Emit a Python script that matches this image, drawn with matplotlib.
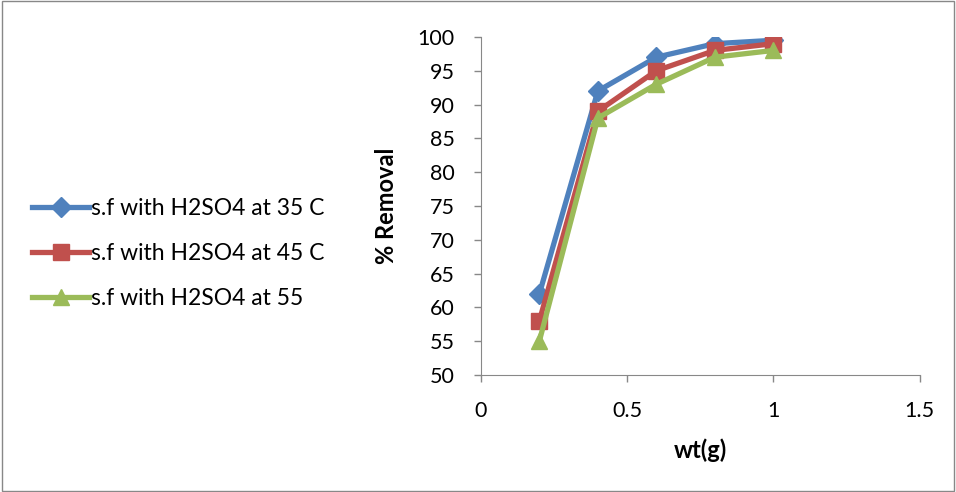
import matplotlib.pyplot as plt
from matplotlib.patches import Rectangle

plt.rcParams['font.family'] = ['Lato', 'DejaVu Sans']

wt = [0.2, 0.4, 0.6, 0.8, 1.0]
removal_35 = [62, 92, 97, 99, 99.5]
removal_45 = [58, 89, 95, 98, 99]
removal_55 = [55, 88, 93, 97, 98]
labels = ['s.f with H2SO4 at 35 C', 's.f with H2SO4 at 45 C', 's.f with H2SO4 at 55']

fig = plt.figure(figsize=(9.56, 4.92), dpi=100)
ax = fig.add_axes([0.503, 0.238, 0.459, 0.687])

ax.plot(wt, removal_35, color='#4F81BD', lw=3.8, marker='D', ms=10, label=labels[0])
ax.plot(wt, removal_45, color='#C0504D', lw=3.8, marker='s', ms=11, label=labels[1])
ax.plot(wt, removal_55, color='#9BBB59', lw=3.8, marker='^', ms=12, label=labels[2])

ax.set_xlim(0, 1.5)
ax.set_ylim(50, 100)
ax.set_xticks([0, 0.5, 1, 1.5])
ax.set_xticklabels(['0', '0.5', '1', '1.5'])
ax.set_yticks(range(50, 101, 5))
ax.tick_params(labelsize=15.5, colors='#888888', labelcolor='black', length=5, width=1)
ax.tick_params(axis='x', pad=14)
ax.tick_params(axis='y', pad=14)
for s in ['top', 'right']:
    ax.spines[s].set_visible(False)
for s in ['left', 'bottom']:
    ax.spines[s].set_color('#888888')
ax.set_xlabel('wt(g)', fontsize=17, fontweight='bold', labelpad=12)
ax.set_ylabel('% Removal', fontsize=17, fontweight='bold', labelpad=14)

handles, labs = ax.get_legend_handles_labels()
fig.legend(handles, labs, loc='center left', bbox_to_anchor=(0.012, 0.485),
           frameon=False, fontsize=16.5, handlelength=2.5, labelspacing=1.05,
           handletextpad=0.05)

# outer chart border
fig.add_artist(Rectangle((0.002, 0.003), 0.996, 0.994, transform=fig.transFigure,
                         fill=False, ec='#888888', lw=1))

fig.savefig('out.png', dpi=100)
